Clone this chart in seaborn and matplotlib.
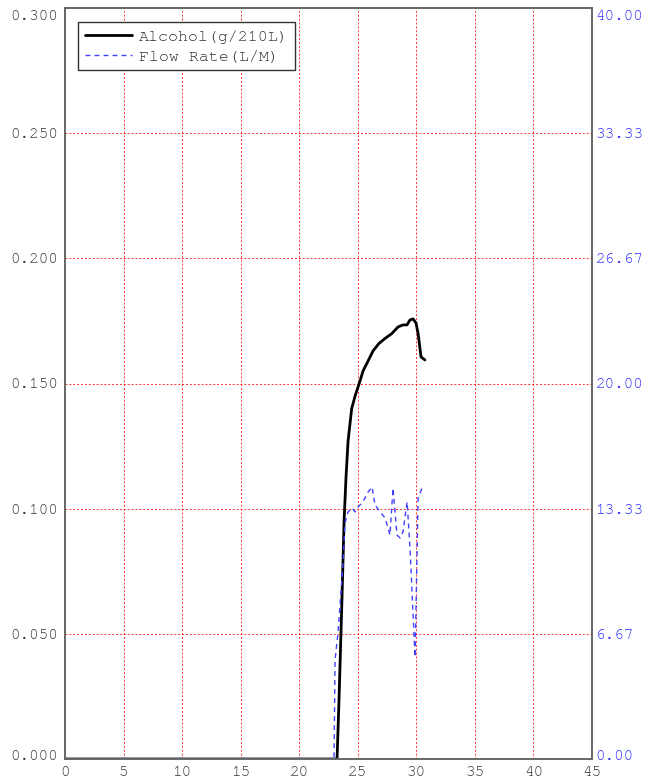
import numpy as np
import pandas as pd
import seaborn as sns
import matplotlib
matplotlib.use("Agg")
import matplotlib.pyplot as plt
import matplotlib.transforms as mtransforms

# alcohol curve (left axis, g/210L)
alc_time = [0.0, 23.23, 23.40, 23.65, 23.83, 24.00, 24.17, 24.48, 24.77, 25.19,
            25.45, 25.88, 26.30, 26.81, 27.33, 27.92, 28.44, 28.86, 29.20, 29.46,
            29.72, 29.97, 30.15, 30.40, 30.74]
alc_value = [0.0, 0.0, 0.024, 0.064, 0.095, 0.113, 0.127, 0.140, 0.145, 0.151,
             0.155, 0.159, 0.163, 0.166, 0.168, 0.170, 0.1726, 0.1734, 0.1734, 0.1754,
             0.1758, 0.1742, 0.170, 0.1606, 0.1594]

# flow rate (right axis, L/M)
flow_time = [0.0, 22.97, 23.06, 23.31, 23.74, 23.91, 24.17, 24.51, 24.77, 25.02,
             25.36, 25.62, 25.88, 26.22, 26.47, 26.90, 27.33, 27.75, 28.01, 28.35,
             28.61, 28.86, 29.21, 29.46, 29.89, 30.15, 30.49]
flow_value = [0.0, 0.0, 5.27, 6.71, 10.44, 12.57, 13.16, 13.37, 13.16, 13.42,
              13.64, 13.90, 14.22, 14.49, 13.53, 13.16, 12.84, 11.93, 14.43, 11.93,
              11.77, 12.09, 13.69, 11.24, 5.43, 13.90, 14.43]

x_ticks = [0, 5, 10, 15, 20, 25, 30, 35, 40, 45]
left_ticks = [0.0, 0.05, 0.10, 0.15, 0.20, 0.25, 0.30]
right_ticks = [0.0, 6.67, 13.33, 20.0, 26.67, 33.33, 40.0]

sns.set_style("white")
plt.rcParams['font.family'] = ['Nimbus Mono PS', 'FreeMono', 'Courier New',
                               'Liberation Mono', 'DejaVu Sans Mono']

fig = plt.figure(figsize=(6.47, 7.82), dpi=100)
ax = fig.add_axes([65 / 647, 23 / 782, 527 / 647, 751 / 782])
ax2 = ax.twinx()

alc_df = pd.DataFrame({"t": alc_time, "v": alc_value})
flow_df = pd.DataFrame({"t": flow_time, "v": flow_value})

sns.lineplot(data=alc_df, x="t", y="v", ax=ax, color="black", lw=2,
             label="Alcohol(g/210L)", legend=False, sort=False)
sns.lineplot(data=flow_df, x="t", y="v", ax=ax2, color="#4040ff", lw=1,
             linestyle=(0, (3.5, 3)), label="Flow Rate(L/M)", legend=False, sort=False)

ax.set_xlim(0, 45)
ax.set_ylim(0, 0.3)
ax2.set_ylim(0, 40)
ax.set_xticks(x_ticks)
ax.set_yticks(left_ticks)
ax2.set_yticks(right_ticks)
ax.set_xticklabels([str(t) for t in x_ticks])
ax.set_yticklabels(["{:.3f}".format(t) for t in left_ticks])
ax2.set_yticklabels(["{:.2f}".format(t) for t in right_ticks])
ax.set_xlabel("")
ax.set_ylabel("")
ax2.set_ylabel("")

ax.grid(True, color="red", linestyle=(0, (2, 2)), lw=0.7, alpha=0.8)
ax.set_axisbelow(True)
ax.tick_params(axis="both", length=0, labelsize=11.5, colors="#333333", pad=5)
ax.tick_params(axis="x", pad=5)
ax2.tick_params(axis="y", length=0, labelsize=11.5, colors="#2a2aff", pad=2.5)
for a in (ax, ax2):
    for s in a.spines.values():
        s.set_color("#666666")
        s.set_linewidth(1.2)

# edge labels sit inside the figure like the original
for labels in (ax.get_yticklabels(), ax2.get_yticklabels()):
    top = labels[-1]
    top.set_transform(top.get_transform() + mtransforms.ScaledTranslation(0, -5 / 72, fig.dpi_scale_trans))
    bot = labels[0]
    bot.set_transform(bot.get_transform() + mtransforms.ScaledTranslation(0, 3 / 72, fig.dpi_scale_trans))

h1, l1 = ax.get_legend_handles_labels()
h2, l2 = ax2.get_legend_handles_labels()
leg = ax2.legend(h1 + h2, l1 + l2, loc="upper left", bbox_to_anchor=(0.025, 0.981),
                 borderaxespad=0, fontsize=12, fancybox=False, framealpha=1,
                 edgecolor="#333333", handlelength=2.8, borderpad=0.4,
                 labelspacing=0.32, handletextpad=0.45)
leg.get_frame().set_linewidth(1)
for t in leg.get_texts():
    t.set_color("#333333")

fig.savefig("out.png", dpi=100)
